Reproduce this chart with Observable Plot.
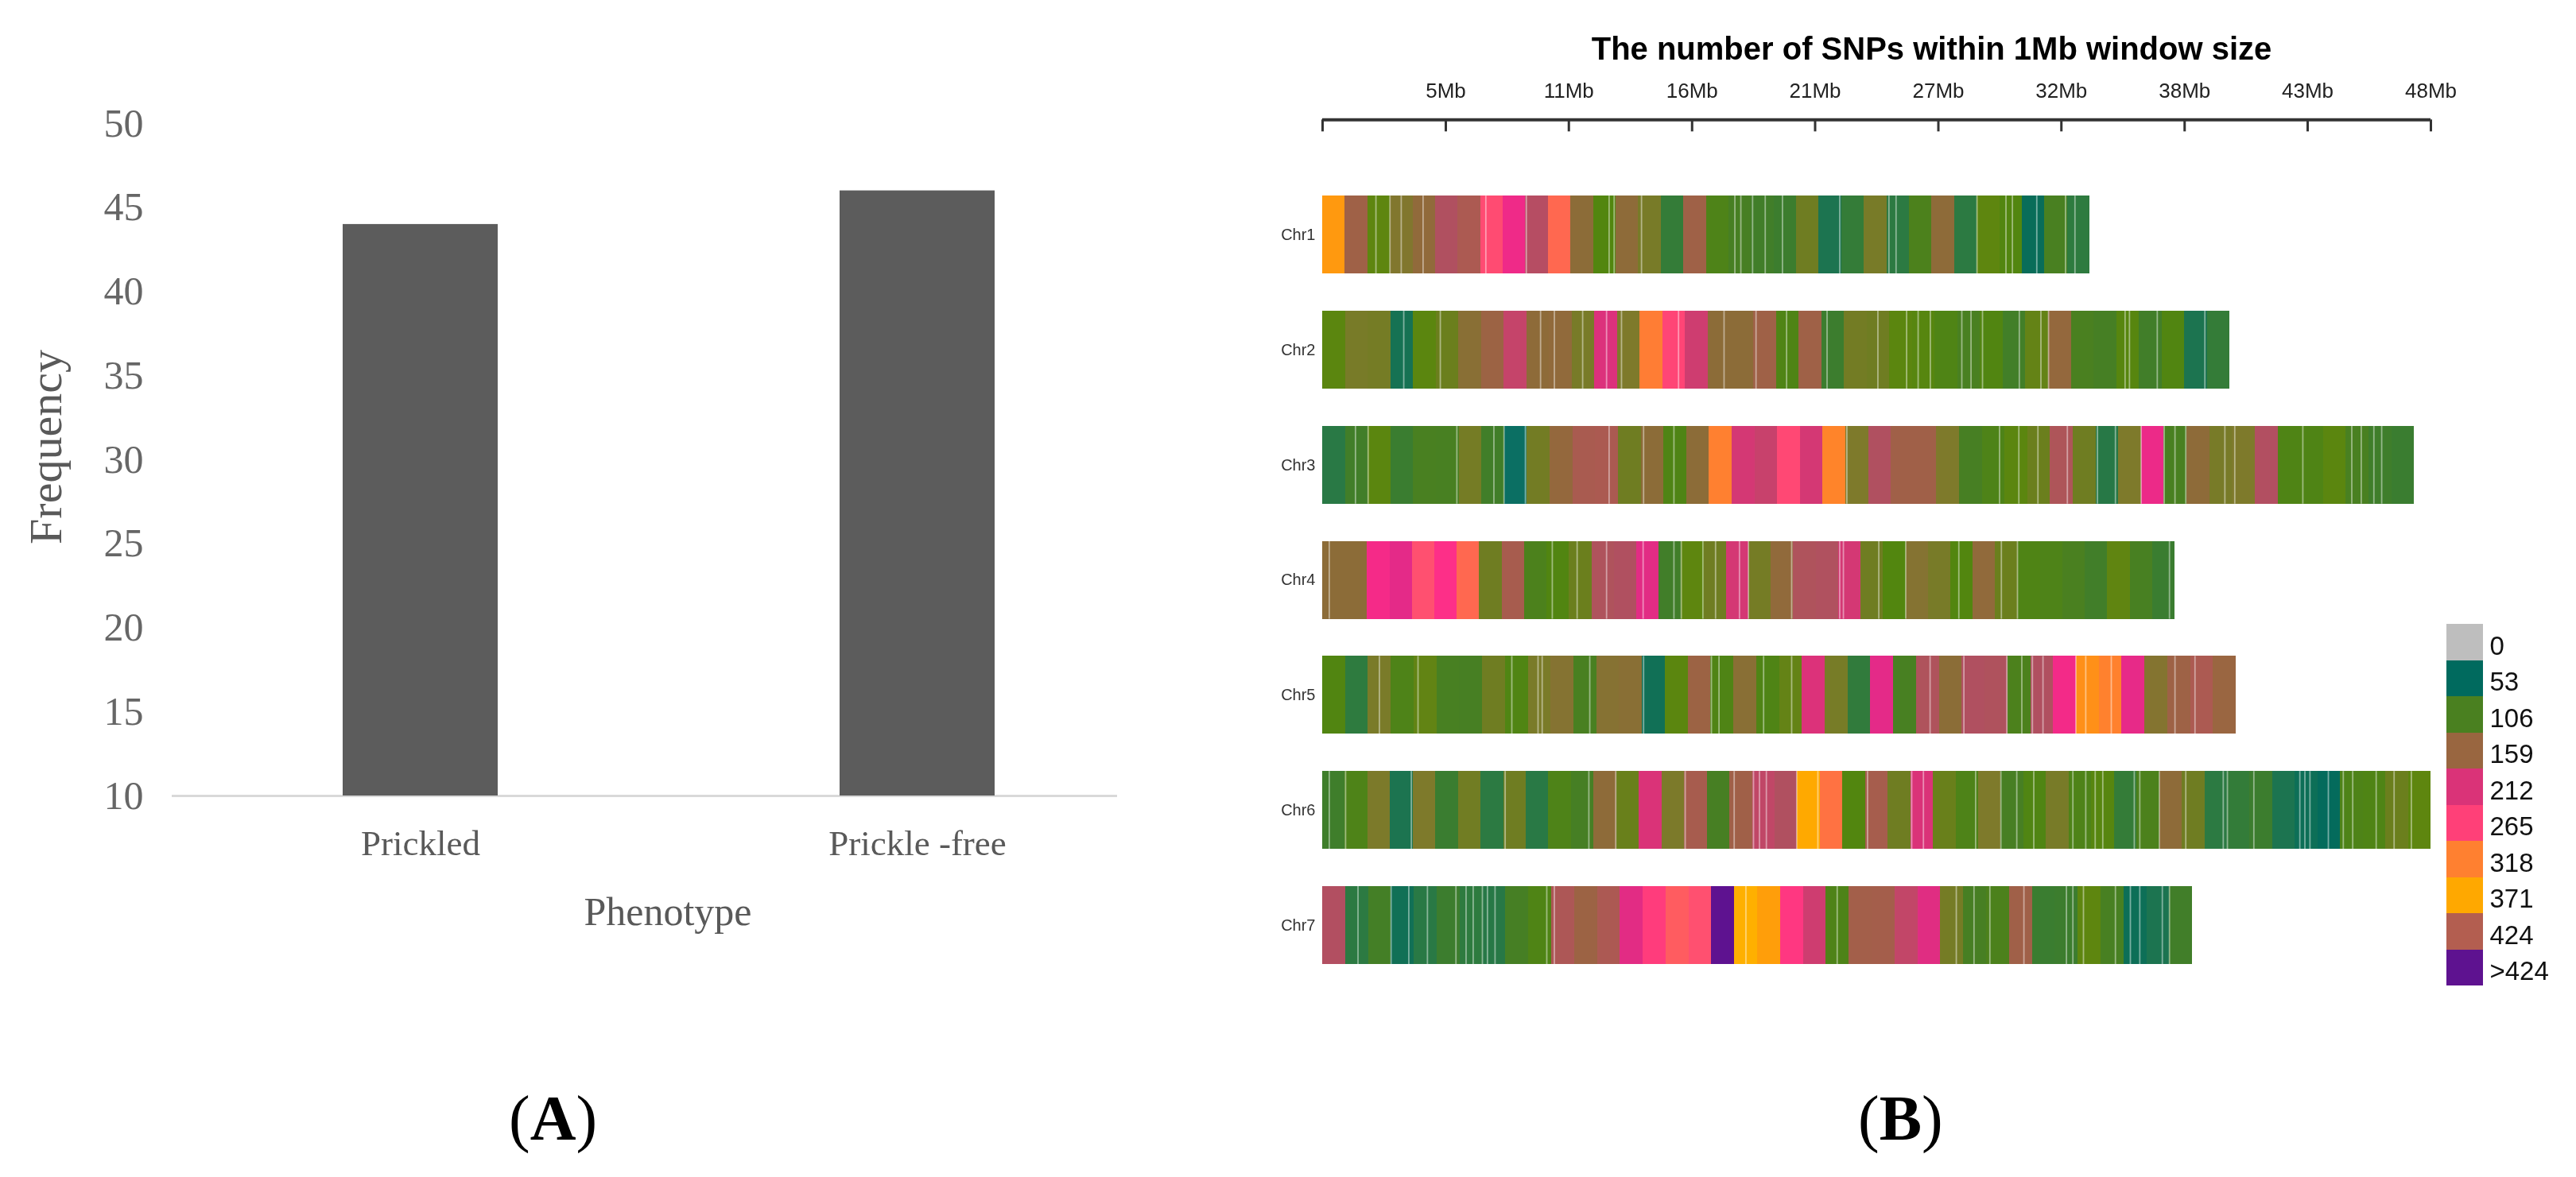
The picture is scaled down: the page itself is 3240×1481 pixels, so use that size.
<!DOCTYPE html>
<html>
<head>
<meta charset="utf-8">
<script src="https://cdn.jsdelivr.net/npm/d3@7"></script>
<script src="https://cdn.jsdelivr.net/npm/@observablehq/plot@0.6"></script>
<style>
html,body{margin:0;padding:0;background:#fff;overflow:hidden}
#page{position:relative;width:3240px;height:1481px;overflow:hidden}
#page svg{position:absolute;background:transparent;overflow:visible;max-width:none;filter:blur(0.5px)}
.cap{position:absolute;font-family:"Liberation Serif",serif;font-size:80px;line-height:1;color:#000;white-space:nowrap}
</style>
</head>
<body>
<div id="page"></div>
<script>
// Panel A
const phenotypes = ["Prickled", "Prickle -free"];
const frequencies = [44, 46];
const freqTicks = [10, 15, 20, 25, 30, 35, 40, 45, 50];

// Panel B: SNP count per window, in order along each chromosome
const chrNames = ["Chr1", "Chr2", "Chr3", "Chr4", "Chr5", "Chr6", "Chr7"];
const chrLengths = [33.37, 39.46, 47.48, 37.07, 39.73, 48.2, 37.83];
const chr1 = [355,170,122,140,152,195,185,272,235,198,295,148,115,150,135,85,170,110,103,97,92,130,68,85,135,78,108,150,78,122,115,58,105,80];
const chr2 = [120,135,133,65,120,128,146,165,205,150,152,135,215,138,315,268,208,148,148,170,112,170,92,132,130,120,118,112,105,114,98,125,155,106,102,118,97,114,68,85];
const chr3 = [76,97,120,90,105,104,133,97,50,132,155,182,184,130,148,112,148,318,210,206,270,210,325,138,195,172,172,138,103,110,120,128,190,130,75,138,232,105,150,135,138,196,112,112,120,105,95,90];
const chr4 = [148,148,240,225,275,250,295,130,180,108,114,128,192,195,222,97,122,130,210,133,152,192,194,210,130,115,143,135,115,152,128,112,110,106,97,123,104,90];
const chr5 = [114,80,136,110,124,104,103,130,113,136,143,105,144,146,62,120,165,112,146,112,125,214,134,82,225,104,192,147,195,193,108,195,238,345,320,228,142,168,185,160];
const chr6 = [95,110,137,68,138,90,131,78,130,76,110,102,150,127,212,137,180,103,172,203,195,372,305,115,178,130,212,127,110,138,103,113,135,110,118,85,108,150,130,78,84,92,68,60,55,110,112,128,122];
const chr7 = [196,78,100,62,76,92,80,75,102,112,188,165,186,222,262,285,275,450,385,360,258,208,110,175,176,204,220,133,103,108,172,90,92,122,104,60,68,97];
const chrValues = [chr1, chr2, chr3, chr4, chr5, chr6, chr7];

// Windows without data (the pale hairlines), position in Mb
const gaps1 = [2.32,2.93,3.42,4.37,7.1,8.86,12.46,12.68,13.87,17.93,18.19,18.7,19.25,20.0,22.49,24.63,24.94,28.46,29.72,30.0,31.06,32.31,32.72];
const gaps2 = [3.53,5.12,9.48,10.08,11.31,12.35,13.0,15.48,17.46,18.85,20.18,21.94,24.15,25.4,25.9,26.43,27.8,28.2,28.7,30.3,31.24,31.57,34.9,35.09,36.3,38.37];
const gaps3 = [1.43,1.98,5.84,7.45,7.89,8.82,12.46,13.96,15.28,22.8,29.44,30.28,31.11,32.39,33.7,34.48,35.6,36.6,37.07,37.54,39.24,39.67,42.63,44.76,45.17,45.72,46.06];
const gaps4 = [0.29,9.99,11.07,12.35,13.94,15.28,15.6,16.54,17.09,18.13,18.52,20.4,22.49,22.65,24.19,25.36,27.67,29.52,30.22,36.83];
const gaps5 = [2.47,4.15,8.23,9.37,9.55,11.62,13.96,16.91,17.24,19.18,20.4,26.42,27.89,29.76,30.41,30.87,31.33,32.76,33.19,34.3,37.07,37.94];
const gaps6 = [0.29,1.0,3.86,7.94,11.58,12.75,15.77,17.9,18.74,19.0,19.3,20.62,21.54,23.7,25.62,26.13,28.4,29.5,30.19,30.93,32.63,33.19,33.6,33.93,35.3,35.54,36.39,37.54,39.17,39.35,40.5,42.5,42.72,42.94,43.74,44.39,44.8,45.82,46.6,47.35];
const gaps7 = [1.54,2.98,3.75,4.56,5.8,6.24,6.55,6.95,7.17,7.5,9.75,10.08,18.41,22.38,27.56,28.33,29.02,30.5,32.35,32.63,33.09,34.48,35.13,35.54,36.52,36.83];
const chrGaps = [gaps1, gaps2, gaps3, gaps4, gaps5, gaps6, gaps7];

const axisMax = 48.2;
const mbTickValues = [0, 5.36, 10.71, 16.07, 21.42, 26.78, 32.13, 37.49, 42.84, 48.2];
const mbTickLabels = ["", "5Mb", "11Mb", "16Mb", "21Mb", "27Mb", "32Mb", "38Mb", "43Mb", "48Mb"];

// Legend
const legendLabels = ["0", "53", "106", "159", "212", "265", "318", "371", "424", ">424"];
const legendValues = [0, 53, 106, 159, 212, 265, 318, 371, 424, 450];

// Colour ramp of the SNP counts
const rampStops = [0,53,68,78,90,106,115,122,130,138,148,159,172,185,195,204,212,225,240,252,265,275,295,318,345,371,385,424,450];
const rampColors = ["#bebebe","#006a5e","#1c7450","#2c7a42","#3a7d30","#4a8020","#52860f","#5e860f","#6f7d22","#7e7a2b","#8c6c38","#996640","#a06048","#ac5a52","#b05060","#c24668","#da3378","#e42a88","#f52a88","#ff3088","#ff4078","#ff5070","#ff6850","#ff8030","#ff9018","#ffa800","#ffb000","#b35e50","#5e1290"];
const colorScale = {type: "linear", domain: rampStops, range: rampColors, clamp: true};

const axisRow = "axis";
const windows = chrNames.flatMap((chr, c) => {
  const n = chrValues[c].length, w = chrLengths[c] / n;
  return chrValues[c].map((v, i) => ({chr, x1: i * w, x2: (i + 1) * w, v}));
});
const gapRows = chrNames.flatMap((chr, c) => chrGaps[c].map(x => ({chr, x})));
const mbTicks = mbTickValues.map((x, i) => ({x, label: mbTickLabels[i]}));

const page = document.getElementById("page");
const serif = "'Liberation Serif', serif";
const sans = "'Liberation Sans', Arial, sans-serif";

// ---- Panel A ----
const plotA = Plot.plot({
  width: 1405, height: 1481,
  marginLeft: 216, marginRight: 0, marginTop: 155, marginBottom: 480,
  style: {background: "transparent"},
  x: {type: "band", domain: phenotypes, range: [216, 1466], paddingInner: 0.688, paddingOuter: 0.344, round: false, axis: null},
  y: {domain: [10, 50], axis: null},
  marks: [
    Plot.ruleY([10], {stroke: "#d9d9d9", strokeWidth: 3}),
    Plot.barY(phenotypes, {x: d => d, y1: () => 10, y2: (d, i) => frequencies[i], fill: "#5c5c5c"}),
    Plot.axisY(freqTicks, {anchor: "left", tickSize: 0, tickPadding: 36, fontSize: 50, fontFamily: serif, fill: "#666", label: null}),
    Plot.axisX(phenotypes, {anchor: "bottom", tickSize: 0, tickPadding: 60, fontSize: 45, fontFamily: serif, fill: "#595959", label: null, lineAnchor: "middle"}),
    Plot.text(["Frequency"], {text: d => d, frameAnchor: "left", textAnchor: "middle", rotate: -90, dx: -158, dy: -16, fontSize: 58, fontFamily: serif, fill: "#595959"}),
    Plot.text(["Phenotype"], {text: d => d, frameAnchor: "bottom", dx: 29, dy: 162, fontSize: 50, fontFamily: serif, fill: "#595959"})
  ]
});
plotA.style.left = "0px"; plotA.style.top = "0px";
page.appendChild(plotA);

// ---- Panel B ----
const plotB = Plot.plot({
  width: 3240, height: 1481,
  marginLeft: 1663, marginRight: 183, marginTop: 101.3, marginBottom: 268,
  style: {background: "transparent"},
  x: {domain: [0, axisMax], axis: null},
  y: {type: "band", domain: [axisRow, ...chrNames], paddingInner: 0.323, paddingOuter: 0, round: false, axis: null},
  color: colorScale,
  marks: [
    Plot.barX(windows, {x1: "x1", x2: "x2", y: "chr", fill: "v", shapeRendering: "crispEdges"}),
    Plot.tickX(gapRows, {x: "x", y: "chr", stroke: "#ffffff", strokeOpacity: 0.45, strokeWidth: 1.8}),
    Plot.axisY(chrNames, {anchor: "left", tickSize: 0, tickPadding: 9, fontSize: 20, fontFamily: sans, fill: "#333", label: null}),
    Plot.ruleY([axisRow], {x1: 0, x2: axisMax, stroke: "#333", strokeWidth: 4}),
    Plot.tickX(mbTicks, {x: "x", y: () => axisRow, insetTop: 49, insetBottom: 34, stroke: "#333", strokeWidth: 3}),
    Plot.text(mbTicks, {x: "x", y: () => axisRow, text: "label", dy: -36, fontSize: 26, fontFamily: sans, fill: "#222"}),
    Plot.text(["The number of SNPs within 1Mb window size"], {text: d => d, frameAnchor: "top", lineAnchor: "middle", dx: 69, dy: -40, fontSize: 40, fontWeight: "bold", fontFamily: sans, fill: "#000"})
  ]
});
plotB.style.left = "0px"; plotB.style.top = "0px";
page.appendChild(plotB);

// ---- Legend ----
const legend = Plot.plot({
  width: 163, height: 455,
  marginLeft: 0, marginRight: 117, marginTop: 0, marginBottom: 0,
  style: {background: "transparent"},
  x: {type: "band", domain: ["swatch"], padding: 0, round: false, axis: null},
  y: {type: "band", domain: legendLabels, padding: 0, round: false, axis: null},
  color: colorScale,
  marks: [
    Plot.cell(legendLabels, {x: () => "swatch", y: d => d, fill: (d, i) => legendValues[i], shapeRendering: "crispEdges"}),
    Plot.axisY(legendLabels, {anchor: "right", tickSize: 0, tickPadding: 8, fontSize: 33, fontFamily: sans, fill: "#111", label: null, dy: 5, textAnchor: "start"})
  ]
});
legend.style.left = "3077px"; legend.style.top = "785px";
page.appendChild(legend);

// ---- Panel captions ----
[["A", 640], ["B", 2337]].forEach(([t, left]) => {
  const d = document.createElement("div");
  d.className = "cap";
  d.style.left = left + "px";
  d.style.top = "1367px";
  d.innerHTML = "(<b>" + t + "</b>)";
  page.appendChild(d);
});
</script>
</body>
</html>
